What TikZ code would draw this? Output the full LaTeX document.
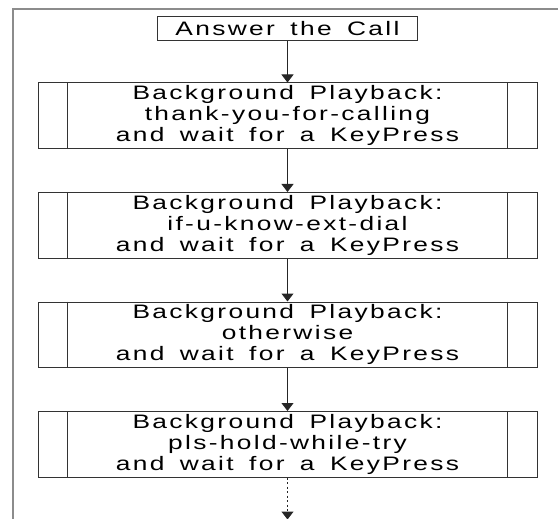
\documentclass[tikz,border=0pt]{standalone}
\usepackage{fontspec}
\setmainfont{Liberation Sans}[FakeStretch=1.35,LetterSpace=12,WordSpace=1.6]
\usetikzlibrary{arrows.meta}
\usetikzlibrary{positioning}
\tikzset{
    basebox/.style = {draw=black!80, line width=1pt, align=center, text centered,
                      font=\fontsize{19.5}{21}\selectfont},
    callbox/.style = {basebox, inner xsep=18pt, inner ysep=0pt, minimum height=24pt},
    playbox/.style = {basebox, inner sep=0pt, minimum width=499pt, minimum height=65.5pt},
    flow/.style = {draw=black!85, line width=1pt, -{Triangle[width=12pt,length=8pt]}},
    frame/.style = {draw=black!45, line width=1.6pt}
}

\begin{document}
\begin{tikzpicture}[node distance=43pt]
    \useasboundingbox (0,0) rectangle (558pt,-519pt);

    % page edge
    \draw [frame] (13pt,-519pt) -- (13pt,-9pt) -- (558pt,-9pt);

    \node [playbox] (pb1) at (287.5pt,-115.75pt)
        {Background Playback:\\thank-you-for-calling\\and wait for a KeyPress};
    \node [playbox, below=of pb1] (pb2)
        {Background Playback:\\if-u-know-ext-dial\\and wait for a KeyPress};
    \node [playbox, below=of pb2] (pb3)
        {Background Playback:\\otherwise\\and wait for a KeyPress};
    \node [playbox, below=of pb3] (pb4)
        {Background Playback:\\pls-hold-while-try\\and wait for a KeyPress};

    \node [callbox, above=41pt of pb1] (answer) {Answer the Call};

    % side bars of the playback boxes
    \foreach \b in {pb1,pb2,pb3,pb4} {
        \draw [black!80, line width=1pt] ([xshift=30pt]\b.north west) -- ([xshift=30pt]\b.south west);
        \draw [black!80, line width=1pt] ([xshift=-30pt]\b.north east) -- ([xshift=-30pt]\b.south east);
    }

    \coordinate [below=42pt of pb4] (more);

    \draw [flow] (answer) -- (pb1);
    \draw [flow] (pb1) -- (pb2);
    \draw [flow] (pb2) -- (pb3);
    \draw [flow] (pb3) -- (pb4);
    \draw [flow, line width=1.2pt, dash pattern=on 2pt off 2.5pt] (pb4) -- (more);
\end{tikzpicture}
\end{document}
